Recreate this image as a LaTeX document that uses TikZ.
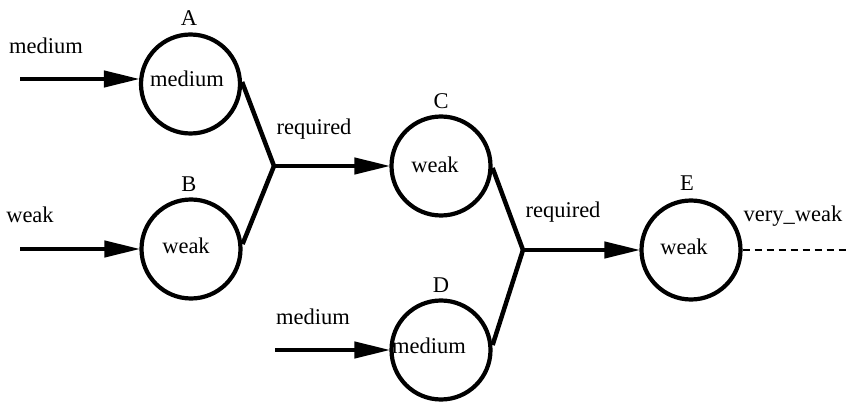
\documentclass[tikz,border=0pt]{standalone}
\usepackage{fontspec}
\setmainfont{Liberation Serif}
\usetikzlibrary{arrows.meta}
\begin{document}
\begin{tikzpicture}[x=1pt,y=-1pt,
  every node/.style={font=\fontsize{22.5}{26}\selectfont, inner sep=0pt},
  cnode/.style={circle, draw, line width=4.2pt, minimum size=99pt},
  conn/.style={line width=4.5pt},
  arr/.style={line width=4.5pt, -{Triangle[length=36pt,width=16pt]}, shorten >=-1pt},
  dsh/.style={line width=2.8pt, dash pattern=on 7pt off 5pt}]
\useasboundingbox (0,0) rectangle (849,403);
% circles
\node[cnode] (A) at (190.5,84) {};
\node[cnode] (B) at (191,249) {};
\node[cnode] (C) at (441,166) {};
\node[cnode] (D) at (441,350) {};
\node[cnode] (E) at (691,250) {};
% inner texts
\node (At) at (187,79) {medium};
\node (Bt) at (186,246) {weak};
\node (Ct) at (435,165) {weak};
\node (Dt) at (429,346) {medium};
\node (Et) at (684,247) {weak};
% names
\node (Al) at (189,18) {A};
\node (Bl) at (189,184) {B};
\node (Cl) at (441,101) {C};
\node (Dl) at (441,285) {D};
\node (El) at (687,183) {E};
% input labels
\node (l1) at (46,46) {medium};
\node (l2) at (30,215) {weak};
\node (l3) at (313,317) {medium};
\node (l4) at (314,129) {required};
\node (l5) at (563,212) {required};
\node (l6) at (793,216) {very\_weak};
% coordinates
\coordinate (a0) at (20,79);
\coordinate (b0) at (20,249);
\coordinate (d0) at (275,350);
\coordinate (j1) at (274,166);
\coordinate (j2) at (523,250);
\coordinate (eo) at (849,250);
% arrows
\draw[arr] (a0) -- (A.west |- a0);
\draw[arr] (b0) -- (B.west);
\draw[arr] (d0) -- (D.west);
\draw[arr] (j1) -- (C.west);
\draw[arr] (j2) -- (E.west);
% joins
\draw[conn] (A.east) ++(0,-2) -- (j1);
\draw[conn] (B.east) ++(0,-5) -- (j1);
\draw[conn] (C.east) ++(0,2) -- (j2);
\draw[conn] (D.east) ++(0,-5) -- (j2);
\draw[dsh] (E.east) -- (eo);
\end{tikzpicture}
\end{document}
